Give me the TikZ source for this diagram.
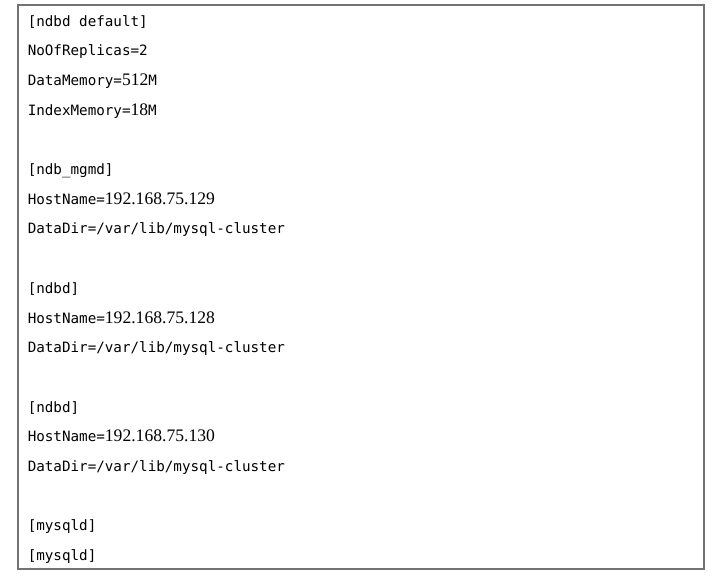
\documentclass[tikz,border=0pt]{standalone}
\usepackage{fontspec}
\setmonofont{DejaVu Sans Mono}[Scale=1.0]
\newfontfamily\numfont{Liberation Serif}
\usepackage{tikz}
\usetikzlibrary{positioning}
\newcommand{\dg}[1]{{\numfont\fontsize{13.2pt}{15pt}\selectfont #1}}
\tikzset{
  cfgline/.style = {anchor = base west, inner sep = 0pt, font = \ttfamily\fontsize{10.68pt}{12pt}\selectfont},
  cfgframe/.style = {draw = black!55, line width = 1.1pt}
}

\begin{document}
\begin{tikzpicture}[x = .75pt, y = -.75pt]
\useasboundingbox (0,0) rectangle (714,576);
\draw[cfgframe] (18,5) rectangle (704,569);
% default section
\node[cfgline] (hdr) at (27.5,26) {[ndbd default]};
\node[cfgline] (rep) at (27.5,55.7) {NoOfReplicas=2};
\node[cfgline] (dmem) at (27.5,85.4) {DataMemory=\dg{512}M};
\node[cfgline] (imem) at (27.5,115.1) {IndexMemory=\dg{18}M};
% management node
\node[cfgline] (mgm) at (27.5,174.5) {[ndb\_mgmd]};
\node[cfgline] (mgmhost) at (27.5,204.2) {HostName=\dg{192.168.75.129}};
\node[cfgline] (mgmdir) at (27.5,233.9) {DataDir=/var/lib/mysql-cluster};
% data node a
\node[cfgline] (nda) at (27.5,293.3) {[ndbd]};
\node[cfgline] (ndahost) at (27.5,323) {HostName=\dg{192.168.75.128}};
\node[cfgline] (ndadir) at (27.5,352.7) {DataDir=/var/lib/mysql-cluster};
% data node b
\node[cfgline] (ndb) at (27.5,412.1) {[ndbd]};
\node[cfgline] (ndbhost) at (27.5,441.8) {HostName=\dg{192.168.75.130}};
\node[cfgline] (ndbdir) at (27.5,471.5) {DataDir=/var/lib/mysql-cluster};
% sql nodes
\node[cfgline] (sqla) at (27.5,530.9) {[mysqld]};
\node[cfgline] (sqlb) at (27.5,560.6) {[mysqld]};
\end{tikzpicture}
\end{document}
